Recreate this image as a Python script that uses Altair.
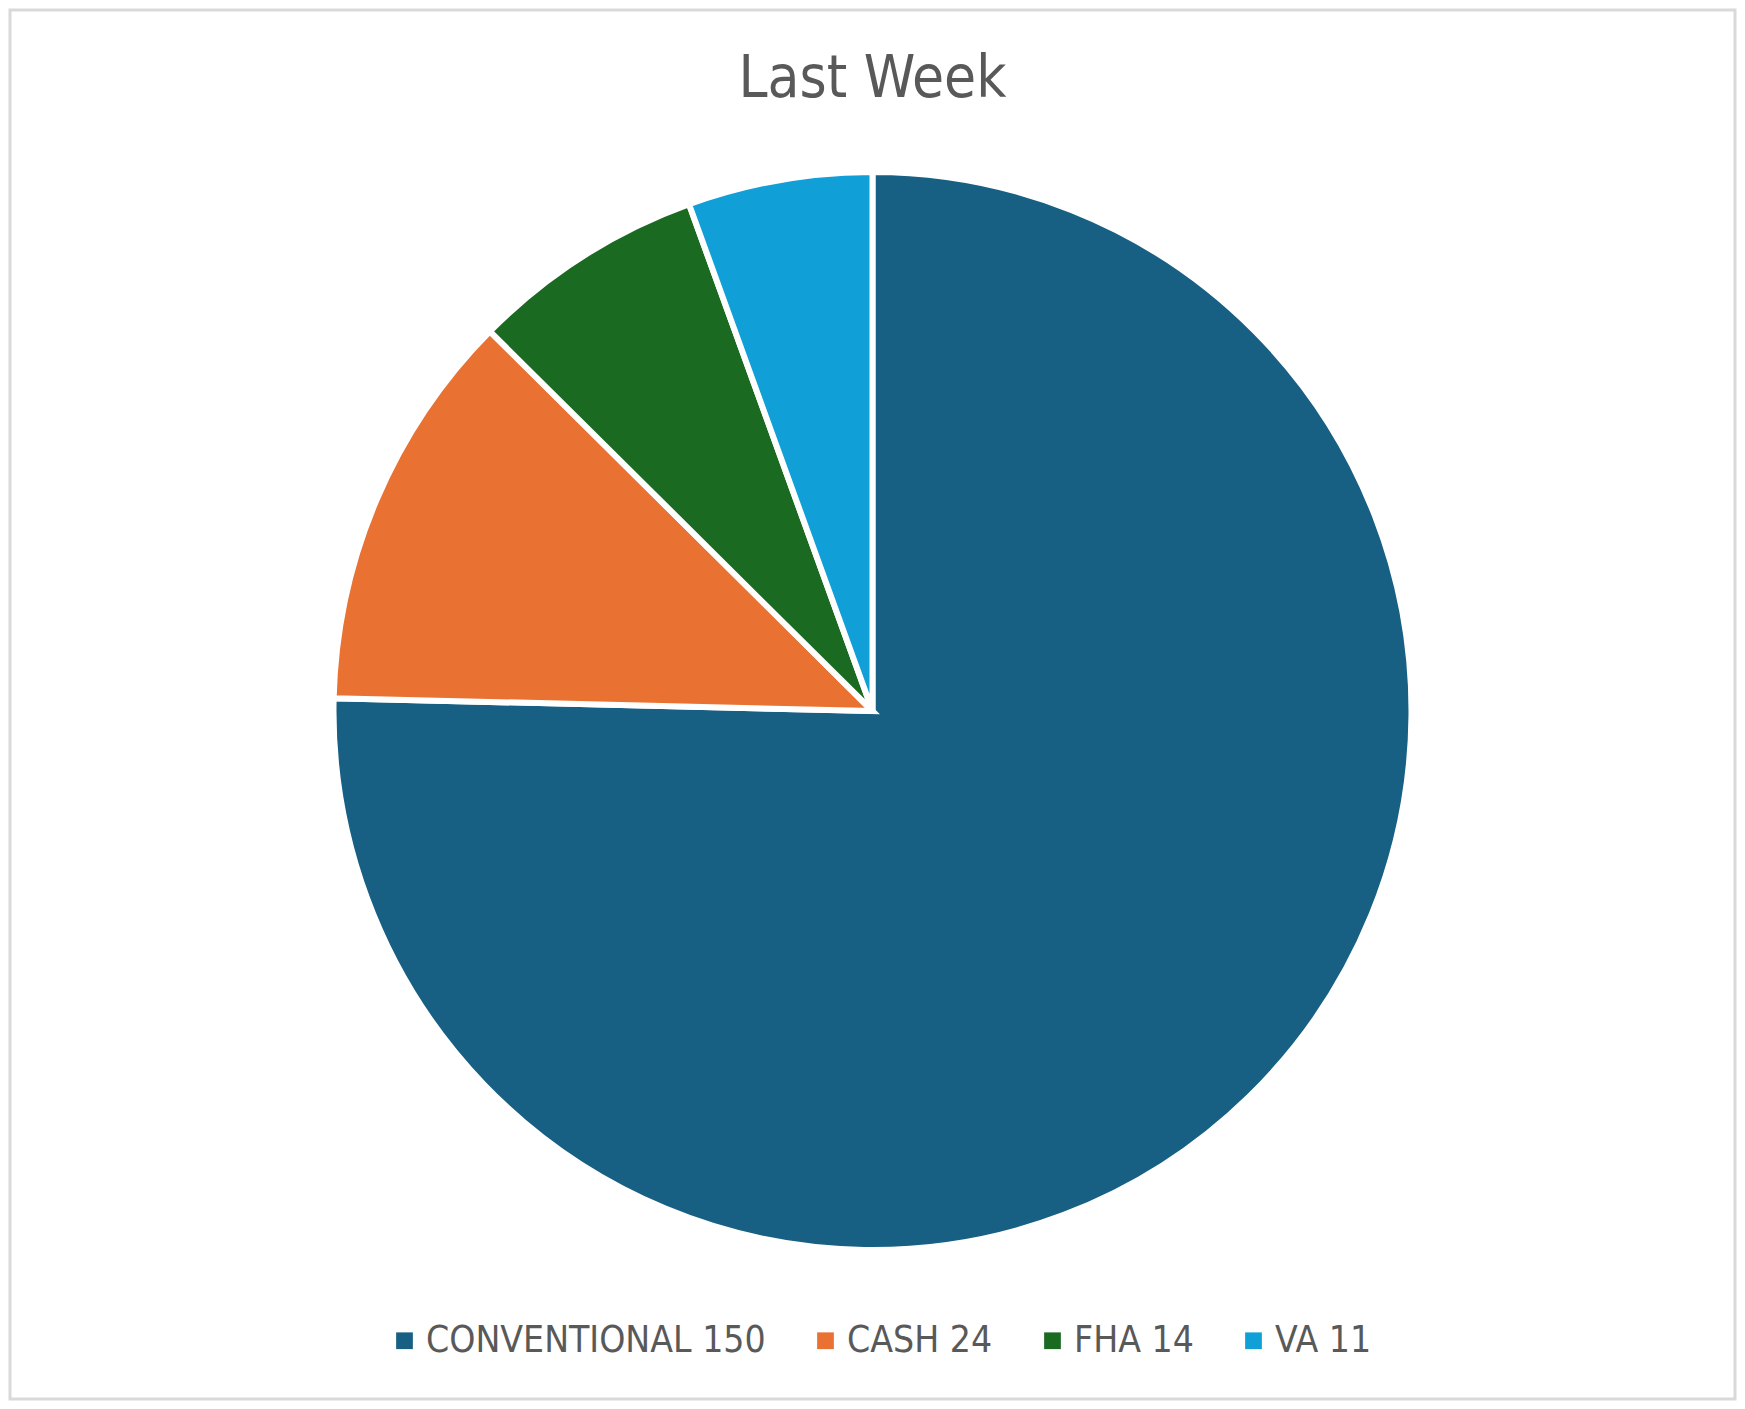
"""Pie chart of last week's closings by loan type."""

import pandas as pd
import altair as alt

FONT = "DejaVu Sans Condensed, sans-serif"
TEXT_COLOR = "#595959"
WIDTH, HEIGHT = 1725, 1389

# data
loan_types = ["CONVENTIONAL", "CASH", "FHA", "VA"]
counts = [150, 24, 14, 11]
colors = ["#175f83", "#e97232", "#1b6a22", "#119fd8"]

labels = [f"{name} {n}" for name, n in zip(loan_types, counts)]

df = pd.DataFrame({
    "label": labels,
    "count": counts,
    "order": list(range(len(labels))),
})

# light grey frame round the whole chart
frame = (
    alt.Chart(pd.DataFrame({"frame": [0]}))
    .mark_rect(filled=False, stroke="#d9d9d9", strokeWidth=3)
    .encode(
        x=alt.value(0), x2=alt.value(WIDTH),
        y=alt.value(0), y2=alt.value(HEIGHT),
    )
)

pie = (
    alt.Chart(df)
    .mark_arc(radius=539, stroke="white", strokeWidth=6)
    .encode(
        theta=alt.Theta("count:Q", stack=True),
        order=alt.Order("order:Q"),
        y=alt.value(701),
        color=alt.Color(
            "label:N",
            sort=labels,
            scale=alt.Scale(domain=labels, range=colors),
            legend=alt.Legend(
                title=None,
                orient="none",
                direction="horizontal",
                legendX=376,
                legendY=1312,
                symbolType="square",
                symbolSize=280,
                symbolStrokeWidth=0,
                labelFont=FONT,
                labelFontSize=37,
                labelColor=TEXT_COLOR,
                labelOffset=3,
                columnPadding=41,
                labelLimit=0,
            ),
        ),
    )
)

chart = (
    alt.layer(frame, pie)
    .properties(
        width=WIDTH,
        height=HEIGHT,
        padding=0,
        title=alt.TitleParams(
            text="Last Week",
            font=FONT,
            fontSize=58,
            fontWeight="normal",
            color=TEXT_COLOR,
            anchor="middle",
            offset=-100,
        ),
    )
    .configure_view(stroke=None)
    .configure(background="white")
)

chart.save("out.html", embed_options={"renderer": "svg", "actions": False})
